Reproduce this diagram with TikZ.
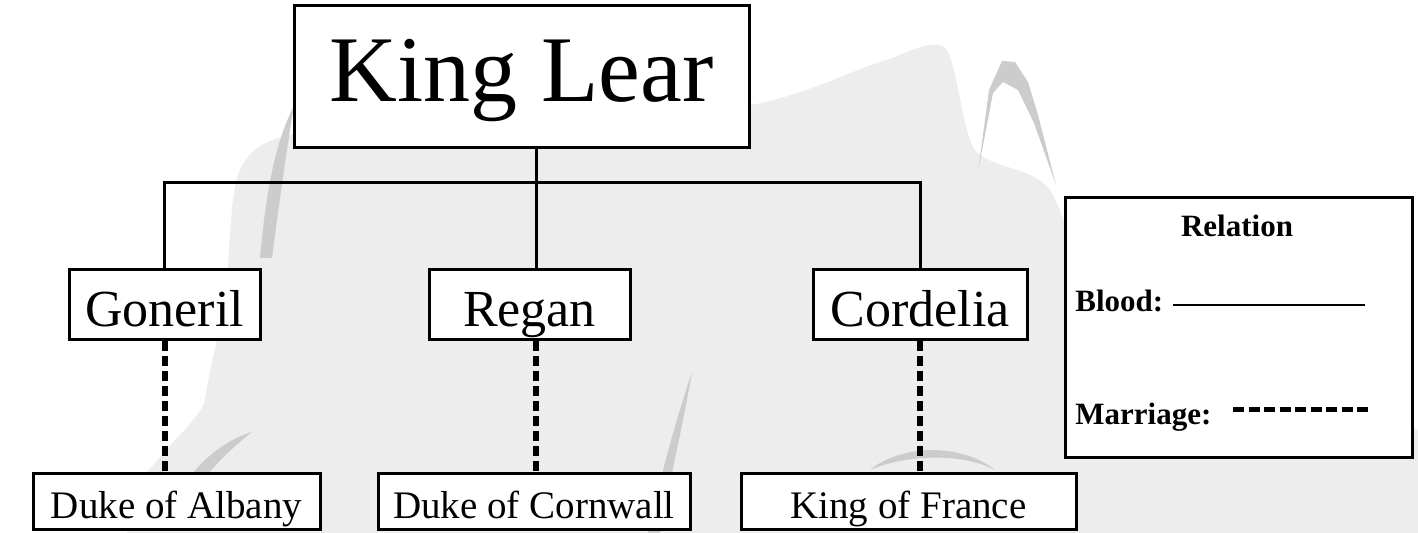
\documentclass[tikz,border=0pt]{standalone}
\usepackage{fontspec}
\setmainfont{Liberation Serif}
\begin{document}
\begin{tikzpicture}[x=0.5pt,y=-0.5pt,
  box/.style={draw=black, line width=1.5pt, fill=white, inner sep=0pt, align=center},
  bloodline/.style={line width=1.5pt, line cap=rect},
  marriageline/.style={line width=3pt, dash pattern=on 5pt off 2.5pt},
  wm/.style={fill=black!7, draw=none},
  wmdark/.style={fill=black!20, draw=none},
  bigtxt/.style={font=\fontsize{47}{50}\selectfont, text height=35pt, text depth=10pt},
  midtxt/.style={font=\fontsize{26}{28}\selectfont, text height=22pt, text depth=0pt},
  smalltxt/.style={font=\fontsize{19.5}{21}\selectfont, text height=17pt, text depth=0pt},
  legtxt/.style={font=\bfseries\fontsize{15.5}{17}\selectfont, inner sep=0pt}]
\useasboundingbox (0,0) rectangle (1418,533);
% watermark
\begin{scope}
\clip (0,0) rectangle (1418,533);
\fill[wm] plot[smooth cycle, tension=0.45] coordinates {(238,175) (290,135) (500,118) (750,105) (880,62) (945,48) (975,150) (1050,190) (1100,330) (1160,440) (1300,440) (1418,430) (1440,560) (190,560) (205,400) (225,300)};
\fill[wmdark] (260,258) .. controls (266,190) and (276,140) .. (294,106) .. controls (288,140) and (281,190) .. (272,258) -- cycle;
\fill[wmdark] (978,172) -- (989,90) -- (1002,61) -- (1015,62) -- (1028,82) -- (1038,115) -- (1056,185) -- (1034,123) -- (1018,90) -- (1003,82) -- (993,93) -- (984,140) -- cycle;
\fill[wmdark] (180,490) .. controls (200,460) and (225,440) .. (252,432) .. controls (232,448) and (210,468) .. (195,492) -- cycle;
\fill[wmdark] (692,372) .. controls (684,420) and (672,470) .. (660,533) -- (648,533) .. controls (662,470) and (676,420) .. (692,372) -- cycle;
\fill[wmdark] (870,470) .. controls (900,445) and (960,442) .. (995,470) .. controls (960,452) and (905,455) .. (870,470) -- cycle;
\end{scope}
% nodes
\node[box, bigtxt, minimum width=227.5pt, minimum height=71pt] (lear) at (521.5,77) {King Lear};
\node[box, midtxt, minimum width=95.5pt, minimum height=35pt] (goneril) at (164.5,305) {Goneril};
\node[box, midtxt, minimum width=100.5pt, minimum height=35pt] (regan) at (529.5,305) {Regan};
\node[box, midtxt, minimum width=107pt, minimum height=35pt] (cordelia) at (920,305) {Cordelia};
\node[box, smalltxt, minimum width=143.5pt, minimum height=28pt] (albany) at (176.5,502) {Duke of Albany};
\node[box, smalltxt, minimum width=156pt, minimum height=28pt] (cornwall) at (534,502) {Duke of Cornwall};
\node[box, smalltxt, minimum width=167.5pt, minimum height=28pt] (france) at (908.5,502) {King of France};
\node[box, minimum width=173.5pt, minimum height=130pt] (legend) at (1238.5,328) {};
% blood connectors
\coordinate (junc) at (536.5,183);
\draw[bloodline] (lear.south -| junc) -- (junc) -- (regan.north -| junc);
\draw[bloodline] (goneril.north) |- (junc) -| (cordelia.north);
% marriage connectors
\draw[marriageline] (goneril.south) -- (goneril.south |- albany.north);
\draw[marriageline] (regan.south -| cornwall.north) ++(2,0) coordinate (rc) -- (rc |- cornwall.north);
\draw[marriageline] (cordelia.south) -- (cordelia.south |- france.north);
% legend content
\node[legtxt, anchor=base] (rel) at (1237,237) {Relation};
\node[legtxt, anchor=base west] (blood) at (1075,312) {Blood:};
\node[legtxt, anchor=base west] (marr) at (1075,425) {Marriage:};
\coordinate (bls) at (1173,305);
\coordinate (ble) at (1365,305);
\draw[line width=1pt] (bls) -- (ble);
\coordinate (mls) at (1233,410);
\coordinate (mle) at (1368,410);
\draw[line width=2.5pt, dash pattern=on 5.5pt off 2.25pt] (mls) -- (mle);
\end{tikzpicture}
\end{document}
